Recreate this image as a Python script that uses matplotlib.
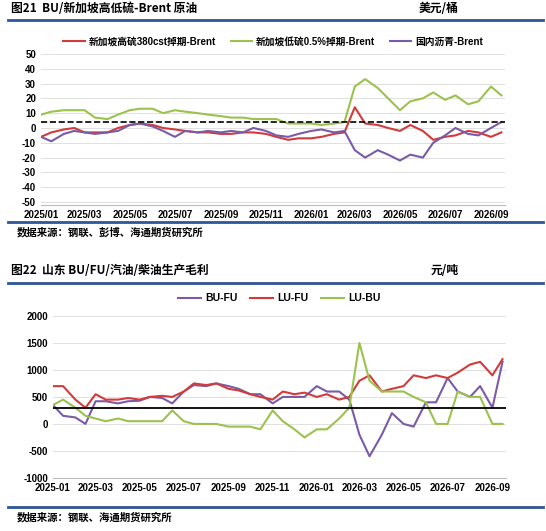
import matplotlib
matplotlib.use("Agg")
import matplotlib.pyplot as plt
import matplotlib.dates as mdates
import pandas as pd

plt.rcParams['font.family'] = ['Liberation Sans', 'Noto Sans CJK SC', 'DejaVu Sans']
plt.rcParams['axes.unicode_minus'] = False

# semi-monthly points, 2025-01-01 .. 2026-09-15
hsfo = [-6, -3, -1, 0, -3, -3, -3, 0, 2, 3, 2, 0, -1, -2, -3, -3, -4, -4, -3, -3,
        -4, -6, -8, -7, -7, -6, -4, -3, 14, 3, 2, 0, -2, 2, -2, -8, -6, -5, -2, -3, -6, -3]
lsfo = [9, 11, 12, 12, 12, 7, 6, 9, 12, 13, 13, 10, 12, 11, 10, 9, 8, 7, 7, 6,
        6, 6, 3, 3, 3, 2, 3, 4, 28, 33, 27, 20, 12, 18, 20, 24, 19, 22, 16, 18, 28, 22]
asph = [-6, -9, -4, -2, -3, -4, -3, -2, 2, 3, 1, -2, -6, -2, -3, -2, -3, -2, -3, 0,
        -2, -5, -6, -4, -2, -1, -3, -2, -15, -20, -15, -18, -22, -18, -20, -10, -5, 0, -4, -5, 0, 4]

bu_fu = [350, 150, 120, 0, 420, 420, 380, 420, 430, 500, 480, 380, 600, 720, 700, 750, 700, 650, 550, 550,
         380, 500, 500, 500, 700, 600, 600, 450, -200, -600, -200, 200, 0, -50, 400, 400, 850, 600, 500, 700, 300, 1150]
lu_fu = [700, 700, 450, 300, 550, 450, 450, 480, 450, 500, 520, 500, 600, 750, 720, 750, 650, 620, 550, 500,
         450, 600, 550, 580, 500, 550, 450, 500, 800, 900, 600, 650, 700, 900, 850, 900, 850, 950, 1100, 1150, 900, 1200]
lu_bu = [350, 450, 300, 150, 100, 50, 100, 50, 50, 50, 50, 250, 50, 0, 0, 0, -50, -50, -50, -100,
         250, 50, -100, -250, -100, -100, 100, 300, 1500, 800, 600, 600, 600, 500, 400, 0, 0, 600, 500, 500, 0, 0]

dates = []
for y in (2025, 2026):
    for m in range(1, 13):
        for d in (1, 15):
            dates.append(pd.Timestamp(y, m, d))
dates = [d for d in dates if d <= pd.Timestamp(2026, 9, 15)]

RED, GREEN, PURPLE = '#d23b3b', '#9cc24e', '#7a5ba8'
BLUE = '#2e5597'

fig = plt.figure(figsize=(5.46, 5.31), dpi=100)

def header(ytop, title, unit, ybot, src):
    fig.text(0.02, ytop, title, fontsize=8.5, fontweight='bold', va='center', family=['Noto Sans CJK SC'])
    fig.text(0.84, ytop, unit, fontsize=8.5, fontweight='bold', va='center', ha='right', family=['Noto Sans CJK SC'])
    fig.add_artist(plt.Line2D([0.015, 0.995], [ytop - 0.023] * 2, color=BLUE, lw=2))
    fig.add_artist(plt.Line2D([0.015, 0.995], [ybot] * 2, color=BLUE, lw=2))
    fig.text(0.03, ybot - 0.02, src, fontsize=7.5, fontweight='bold', va='center', family=['Noto Sans CJK SC'])

header(1 - 8 / 531, '图21  BU/新加坡高低硫-Brent 原油', '美元/桶', 1 - 222 / 531, '数据来源：钢联、彭博、海通期货研究所')
header(1 - 271 / 531, '图22  山东 BU/FU/汽油/柴油生产毛利', '元/吨', 1 - 507 / 531, '数据来源：钢联、海通期货研究所')

def style(ax, fmt):
    ax.grid(axis='y', color='#e0e0e0', lw=0.7)
    ax.set_axisbelow(True)
    for s in ('top', 'right', 'left'):
        ax.spines[s].set_visible(False)
    ax.spines['bottom'].set_color('#bbbbbb')
    ax.tick_params(length=0, labelsize=7)
    for lab in ax.get_xticklabels() + ax.get_yticklabels():
        lab.set_fontweight('bold')
    ax.xaxis.set_major_locator(mdates.MonthLocator(bymonth=[1, 3, 5, 7, 9, 11]))
    ax.xaxis.set_major_formatter(mdates.DateFormatter(fmt))
    ax.set_xlim(pd.Timestamp(2025, 1, 1), pd.Timestamp(2026, 9, 20))

ax1 = fig.add_axes([0.075, 0.614, 0.85, 0.29])
ax1.plot(dates, hsfo, color=RED, lw=1.5, label='新加坡高硫380cst掉期-Brent')
ax1.plot(dates, lsfo, color=GREEN, lw=1.5, label='新加坡低硫0.5%掉期-Brent')
ax1.plot(dates, asph, color=PURPLE, lw=1.5, label='国内沥青-Brent')
ax1.axhline(4, color='black', ls='--', lw=1.2)
ax1.set_ylim(-52, 52)
ax1.set_yticks(range(-50, 51, 10))
style(ax1, '%Y/%m')
ax1.legend(loc='lower center', bbox_to_anchor=(0.5, 0.97), ncol=3, frameon=False,
           prop={'size': 7, 'weight': 'bold', 'family': ['Liberation Sans', 'Noto Sans CJK SC']},
           handlelength=2.2, columnspacing=1.5, handletextpad=0.4)

ax2 = fig.add_axes([0.097, 0.1, 0.83, 0.305])
ax2.plot(dates, bu_fu, color=PURPLE, lw=1.5, label='BU-FU')
ax2.plot(dates, lu_fu, color=RED, lw=1.5, label='LU-FU')
ax2.plot(dates, lu_bu, color=GREEN, lw=1.5, label='LU-BU')
ax2.axhline(300, color='black', lw=1.3)
ax2.set_ylim(-1000, 2000)
ax2.set_yticks(range(-1000, 2001, 500))
style(ax2, '%Y-%m')
ax2.legend(loc='lower center', bbox_to_anchor=(0.5, 1.02), ncol=3, frameon=False,
           prop={'size': 7.5, 'weight': 'bold'}, handlelength=2.2, columnspacing=1.2, handletextpad=0.4)

fig.savefig('out.png', dpi=100)
